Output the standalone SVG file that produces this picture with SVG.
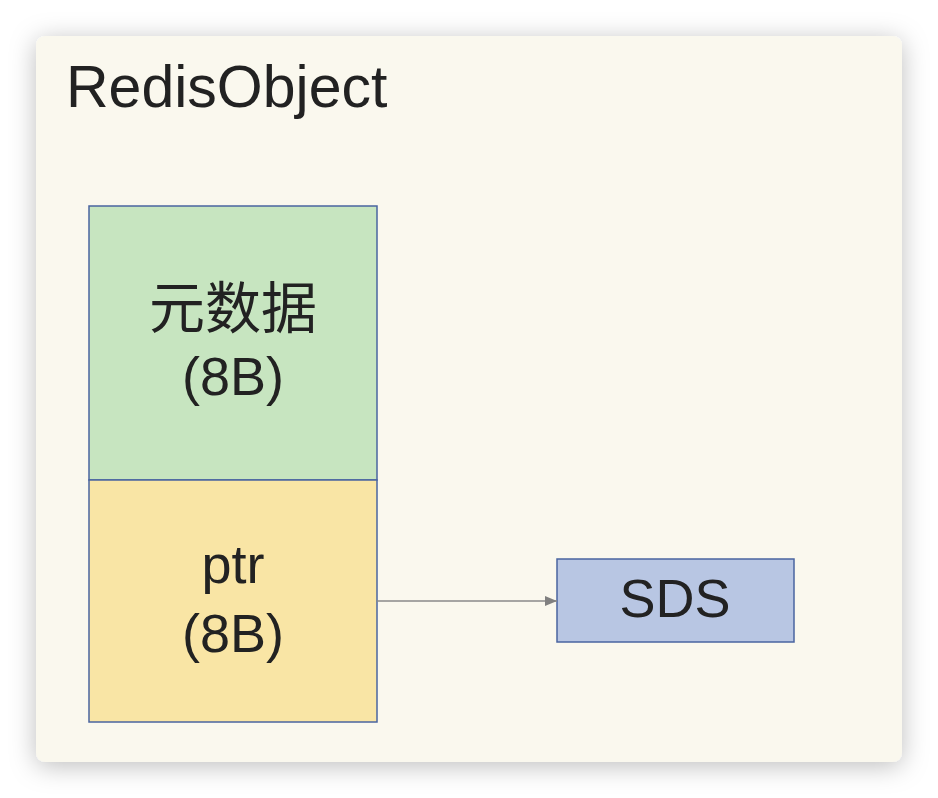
<svg xmlns="http://www.w3.org/2000/svg" width="938" height="798" viewBox="0 0 938 798">
<defs>
<filter id="sh" x="-10%" y="-10%" width="120%" height="120%">
<feDropShadow dx="0" dy="4" stdDeviation="13" flood-color="#000" flood-opacity="0.26"/>
</filter>
<marker id="arr" viewBox="0 0 12 10" refX="12" refY="5" markerWidth="12" markerHeight="10" markerUnits="userSpaceOnUse" orient="auto">
<path d="M0,0 L12,5 L0,10 z" fill="#808080"/>
</marker>
<style>
.t{font-family:"Liberation Sans","Noto Sans CJK SC",sans-serif;fill:#222;text-anchor:middle}
.box{stroke:#4a64a0;stroke-width:1.5}
</style>
</defs>
<rect width="938" height="798" fill="#ffffff"/>
<rect x="36" y="36" width="866" height="726" rx="9" fill="#FAF8EE" filter="url(#sh)"/>
<text x="66" y="107" font-family="Liberation Sans, sans-serif" font-size="59" fill="#222">RedisObject</text>
<g id="meta">
<rect class="box" x="89" y="206" width="288" height="274" fill="#C7E5C0"/>
<text class="t" x="233" y="328" font-size="56">元数据</text>
<text class="t" x="233" y="395" font-size="54">(8B)</text>
</g>
<g id="ptr">
<rect class="box" x="89" y="480" width="288" height="242" fill="#F9E5A5"/>
<text class="t" x="233" y="583" font-size="54">ptr</text>
<text class="t" x="233" y="652" font-size="54">(8B)</text>
</g>
<g id="sds">
<rect class="box" x="557" y="559" width="237" height="83" fill="#B8C6E3"/>
<text class="t" x="675" y="617" font-size="54">SDS</text>
</g>
<g id="connectors">
<line x1="377" y1="601" x2="557" y2="601" stroke="#8a8a8a" stroke-width="1.5" marker-end="url(#arr)"/>
</g>
</svg>
